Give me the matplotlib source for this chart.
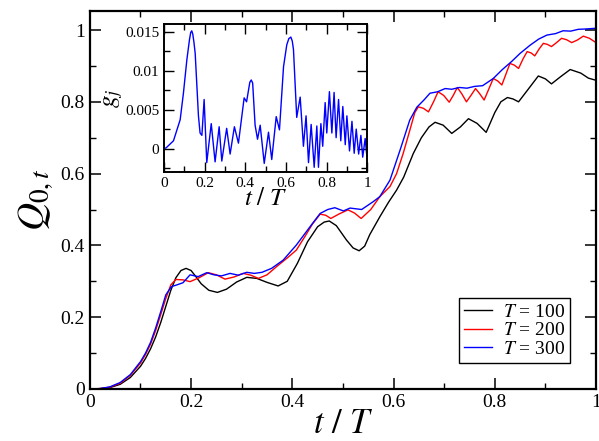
import numpy as np
import matplotlib
matplotlib.use("Agg")
from matplotlib import pyplot as plt
from matplotlib.ticker import MultipleLocator, FuncFormatter

plt.rcParams['font.family'] = 'serif'
plt.rcParams['font.serif'] = ['Liberation Serif', 'DejaVu Serif']
plt.rcParams['mathtext.fontset'] = 'stix'

# T = 100
t100 = [0, 0.02, 0.04, 0.06, 0.08, 0.10, 0.11, 0.12, 0.13, 0.14, 0.15, 0.16, 0.17, 0.18, 0.19,
        0.20, 0.21, 0.22, 0.235, 0.252, 0.27, 0.29, 0.31, 0.33, 0.35, 0.372, 0.39, 0.41, 0.43,
        0.45, 0.463, 0.473, 0.487, 0.507, 0.52, 0.532, 0.543, 0.553, 0.573, 0.59, 0.606, 0.62,
        0.639, 0.655, 0.67, 0.682, 0.698, 0.715, 0.732, 0.748, 0.765, 0.783, 0.80, 0.812,
        0.825, 0.836, 0.847, 0.866, 0.886, 0.9, 0.912, 0.93, 0.949, 0.97, 0.985, 1.0]
q100 = [0, 0.001, 0.004, 0.013, 0.032, 0.063, 0.085, 0.112, 0.145, 0.185, 0.23, 0.275, 0.31,
        0.33, 0.336, 0.33, 0.312, 0.293, 0.275, 0.269, 0.278, 0.298, 0.311, 0.308, 0.297, 0.287,
        0.30, 0.35, 0.41, 0.452, 0.465, 0.468, 0.455, 0.415, 0.393, 0.385, 0.398, 0.43, 0.48,
        0.52, 0.554, 0.59, 0.656, 0.70, 0.73, 0.743, 0.735, 0.712, 0.73, 0.753, 0.74, 0.715,
        0.77, 0.80, 0.812, 0.808, 0.80, 0.835, 0.872, 0.864, 0.85, 0.87, 0.89, 0.88, 0.866, 0.86]

# T = 200
t200 = [0, 0.02, 0.04, 0.06, 0.08, 0.10, 0.11, 0.12, 0.13, 0.14, 0.15, 0.16, 0.170, 0.184,
        0.198, 0.216, 0.234, 0.25, 0.267, 0.285, 0.303, 0.318, 0.333, 0.35, 0.369, 0.39, 0.408,
        0.425, 0.44, 0.455, 0.466, 0.476, 0.493, 0.51, 0.523, 0.536, 0.555, 0.573, 0.593, 0.606,
        0.619, 0.632, 0.642, 0.649, 0.659, 0.669, 0.679, 0.688, 0.699, 0.71, 0.718, 0.726,
        0.735, 0.744, 0.753, 0.762, 0.77, 0.779, 0.788, 0.797, 0.806, 0.814, 0.822, 0.83,
        0.839, 0.847, 0.856, 0.864, 0.872, 0.879, 0.888, 0.896, 0.904, 0.912, 0.922, 0.932,
        0.942, 0.952, 0.963, 0.975, 0.987, 1.0]
q200 = [0, 0.001, 0.005, 0.016, 0.038, 0.072, 0.096, 0.125, 0.163, 0.207, 0.252, 0.29, 0.305,
        0.304, 0.299, 0.31, 0.324, 0.318, 0.306, 0.312, 0.322, 0.317, 0.308, 0.318, 0.341,
        0.365, 0.387, 0.425, 0.46, 0.487, 0.484, 0.475, 0.488, 0.499, 0.49, 0.475, 0.50, 0.536,
        0.564, 0.60, 0.656, 0.72, 0.77, 0.786, 0.782, 0.772, 0.80, 0.828, 0.818, 0.799, 0.818,
        0.840, 0.822, 0.80, 0.818, 0.837, 0.823, 0.805, 0.835, 0.865, 0.858, 0.847, 0.877,
        0.907, 0.902, 0.893, 0.92, 0.94, 0.936, 0.928, 0.948, 0.963, 0.96, 0.954, 0.965, 0.977,
        0.973, 0.965, 0.972, 0.983, 0.977, 0.965]

# T = 300
t300 = [0, 0.02, 0.04, 0.06, 0.08, 0.10, 0.11, 0.12, 0.13, 0.14, 0.15, 0.161, 0.172, 0.184,
        0.198, 0.214, 0.231, 0.245, 0.26, 0.277, 0.293, 0.31, 0.325, 0.34, 0.359, 0.382, 0.408,
        0.435, 0.455, 0.47, 0.484, 0.501, 0.514, 0.537, 0.56, 0.573, 0.593, 0.613, 0.632,
        0.646, 0.66, 0.672, 0.687, 0.702, 0.715, 0.73, 0.745, 0.76, 0.776, 0.797, 0.815, 0.833,
        0.85, 0.87, 0.887, 0.903, 0.92, 0.935, 0.95, 0.965, 0.98, 1.0]
q300 = [0, 0.001, 0.006, 0.018, 0.04, 0.076, 0.10, 0.13, 0.17, 0.215, 0.262, 0.285, 0.29,
        0.296, 0.318, 0.313, 0.324, 0.318, 0.315, 0.322, 0.317, 0.325, 0.322, 0.325, 0.336,
        0.359, 0.401, 0.452, 0.489, 0.50, 0.505, 0.496, 0.504, 0.50, 0.522, 0.536, 0.582,
        0.666, 0.749, 0.785, 0.805, 0.824, 0.828, 0.837, 0.835, 0.84, 0.838, 0.843, 0.845,
        0.865, 0.89, 0.912, 0.935, 0.958, 0.975, 0.986, 0.99, 0.998, 0.997, 1.002, 1.003, 1.005]

# inset g_j
tg = [0, 0.01, 0.046, 0.079, 0.095, 0.112, 0.125, 0.131, 0.136, 0.141, 0.147, 0.153, 0.169,
      0.177, 0.186, 0.197, 0.21, 0.232, 0.251, 0.271, 0.284, 0.308, 0.325, 0.346, 0.366,
      0.394, 0.406, 0.422, 0.429, 0.436, 0.448, 0.46, 0.473, 0.493, 0.514, 0.53, 0.552, 0.568,
      0.588, 0.604, 0.614, 0.624, 0.631, 0.637, 0.653, 0.67, 0.686, 0.699, 0.711, 0.724,
      0.739, 0.752, 0.76, 0.772, 0.781, 0.793, 0.801, 0.814, 0.826, 0.837, 0.847, 0.859,
      0.87, 0.88, 0.892, 0.9, 0.913, 0.925, 0.936, 0.946, 0.958, 0.969, 0.978, 0.99, 0.998]
gj = [0, 0.0001, 0.001, 0.0037, 0.0071, 0.0114, 0.0140, 0.0149, 0.0151, 0.0147, 0.0136,
      0.0122, 0.0042, 0.002, 0.0017, 0.0063, -0.0018, 0.0032, -0.0017, 0.0028, -0.0016,
      0.0026, -0.0007, 0.0028, 0.0007, 0.0065, 0.006, 0.0085, 0.0088, 0.0084, 0.003, 0.0012,
      0.003, -0.0019, 0.0021, -0.0014, 0.0041, 0.0024, 0.0105, 0.0133, 0.0141, 0.0143,
      0.0138, 0.0127, 0.004, 0.0066, 0.0003, 0.0042, -0.0018, 0.0031, -0.0024, 0.0029,
      -0.0024, 0.0032, 0.0003, 0.0059, 0.002, 0.0073, 0.002, 0.0072, 0.0014, 0.0063, 0.001,
      0.0054, 0.0005, 0.0042, -0.0003, 0.0035, -0.0006, 0.0025, -0.0007, 0.0017, -0.0011,
      0.0013, -0.0009]

fmt = FuncFormatter(lambda v, p: f"{v:g}")

fig = plt.figure(figsize=(5.99, 4.41), dpi=100)
ax = fig.add_axes([0.150, 0.118, 0.845, 0.857])
ax.plot(t100, q100, color="black", lw=1.0, label=r"$T$ = 100")
ax.plot(t200, q200, color="red", lw=1.0, label=r"$T$ = 200")
ax.plot(t300, q300, color="blue", lw=1.0, label=r"$T$ = 300")
ax.set_xlim(0, 1)
ax.set_ylim(0, 1.053)
ax.xaxis.set_major_locator(MultipleLocator(0.2))
ax.xaxis.set_minor_locator(MultipleLocator(0.1))
ax.yaxis.set_major_locator(MultipleLocator(0.2))
ax.yaxis.set_minor_locator(MultipleLocator(0.1))
ax.xaxis.set_major_formatter(fmt)
ax.yaxis.set_major_formatter(fmt)
ax.tick_params(which="both", direction="in", top=True, right=True, labelsize=14)
ax.tick_params(which="major", length=8, width=1.1)
ax.tick_params(which="minor", length=4.5, width=1.0)
for s in ax.spines.values():
    s.set_linewidth(1.6)
ax.set_xlabel(r"$t\ /\ T$", fontsize=25, labelpad=-2)
ax.set_ylabel(r"$Q_{0,t}$", fontsize=28, labelpad=4)
leg = ax.legend(loc="lower right", bbox_to_anchor=(0.949, 0.069), borderaxespad=0,
                fancybox=False, edgecolor="black", framealpha=1, fontsize=14,
                handlelength=1.4, handletextpad=0.6, borderpad=0.25, labelspacing=0.05)
leg.get_frame().set_linewidth(1.0)

ins = fig.add_axes([0.274, 0.610, 0.339, 0.336])
ins.plot(tg, gj, color="blue", lw=1.0)
ins.set_xlim(0, 1)
ins.set_ylim(-0.003, 0.016)
ins.xaxis.set_major_locator(MultipleLocator(0.2))
ins.xaxis.set_minor_locator(MultipleLocator(0.1))
ins.yaxis.set_major_locator(MultipleLocator(0.005))
ins.yaxis.set_minor_locator(MultipleLocator(0.0025))
ins.xaxis.set_major_formatter(fmt)
ins.yaxis.set_major_formatter(fmt)
ins.tick_params(which="both", direction="in", top=True, right=True, labelsize=11)
ins.tick_params(which="major", length=7, width=1.0)
ins.tick_params(which="minor", length=4, width=1.0)
for s in ins.spines.values():
    s.set_linewidth(1.4)
ins.set_xlabel(r"$t\ /\ T$", fontsize=18, labelpad=-1)
ins.set_ylabel(r"$g_j$", fontsize=18, labelpad=0)

fig.savefig("out.png", dpi=100)
